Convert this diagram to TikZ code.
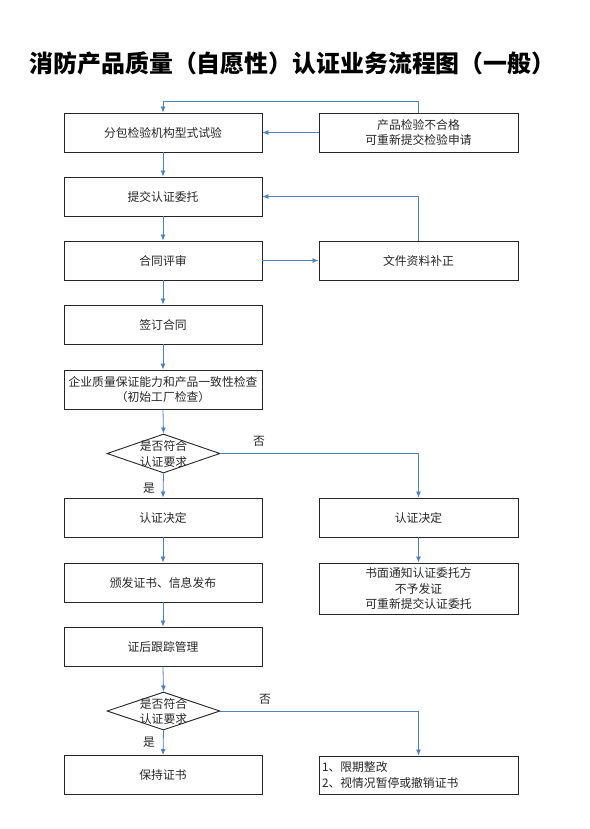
\documentclass[tikz,border=0pt]{standalone}
\usepackage{fontspec}
\newfontfamily\cjk{Noto Sans CJK SC}
\usetikzlibrary{shapes.geometric,arrows.meta}
\definecolor{flowblue}{HTML}{4F81BD}
\begin{document}
\begin{tikzpicture}[x=1pt,y=-1pt,
  txt/.style={font=\cjk\fontsize{11.8}{15.5}\selectfont, text=black!85},
  box/.style={txt, draw=black!85, line width=0.9pt, minimum width=198pt, minimum height=39pt, inner sep=2pt, align=center},
  rbox/.style={box, minimum width=199pt},
  dia/.style={diamond, draw=black!85, line width=0.9pt, minimum width=113pt, minimum height=39pt, inner sep=0pt},
  flow/.style={draw=flowblue, line width=0.8pt, -{Latex[length=6pt,width=5pt]}},
  lab/.style={txt, inner sep=0pt}]
\useasboundingbox (0,0) rectangle (589,829);
\node[font=\cjk\bfseries\fontsize{23.9}{28}\selectfont, inner sep=0pt] (title) at (292.5,63) {消防产品质量（自愿性）认证业务流程图（一般）};

\node[box] (b1) at (163,132.5) {分包检验机构型式试验};
\node[rbox] (r1) at (418.5,132.5) {产品检验不合格\\可重新提交检验申请};
\node[box] (b2) at (163,196.5) {提交认证委托};
\node[box] (b3) at (163,260.5) {合同评审};
\node[rbox] (r3) at (418.5,260.5) {文件资料补正};
\node[box] (b4) at (163,324.5) {签订合同};
\node[box] (b5) at (163,389.5) {企业质量保证能力和产品一致性检查\\（初始工厂检查）};
\node[dia] (d1) at (163.5,453.5) {};
\node[lab, align=center] (d1t) at (163.5,454) {是否符合\\认证要求};
\node[box] (b6) at (163,517.5) {认证决定};
\node[rbox] (r6) at (418.5,517.5) {认证决定};
\node[box] (b7) at (163,582.5) {颁发证书、信息发布};
\node[rbox, minimum height=51pt] (r7) at (418.5,588.5) {书面通知认证委托方\\不予发证\\可重新提交认证委托};
\node[box] (b8) at (163,646.5) {证后跟踪管理};
\node[dia, minimum height=38pt] (d2) at (163.5,711) {};
\node[lab, align=center] (d2t) at (163.5,711.5) {是否符合\\认证要求};
\node[box] (b9) at (163,775) {保持证书};
\node[rbox, minimum height=38pt, text width=193pt, inner xsep=3pt, align=left, font=\cjk\fontsize{11.8}{16}\selectfont] (r9) at (418.5,775) {1、限期整改\\2、视情况暂停或撤销证书};

\node[lab] (no1) at (259,441) {否};
\node[lab] (yes1) at (149,488) {是};
\node[lab] (no2) at (265,699) {否};
\node[lab] (yes2) at (149,742) {是};

\draw[flow] (r1.north) -- ++(0,-11) -| (b1.north);
\draw[flow] (r1.west) -- (b1.east);
\draw[flow] (b1) -- (b2);
\draw[flow] (r3.north) |- (b2.east);
\draw[flow] (b2) -- (b3);
\draw[flow] (b3) -- (r3);
\draw[flow] (b3) -- (b4);
\draw[flow] (b4) -- (b5);
\draw[flow] (b5.south) -- (d1.north);
\draw[flow] (d1.south) -- (b6.north);
\draw[flow] (d1.east) -| (r6.north);
\draw[flow] (r6) -- (r7);
\draw[flow] (b6) -- (b7);
\draw[flow] (b7) -- (b8);
\draw[flow] (b8.south) -- (d2.north);
\draw[flow] (d2.south) -- (b9.north);
\draw[flow] (d2.east) -| (r9.north);
\end{tikzpicture}
\end{document}
